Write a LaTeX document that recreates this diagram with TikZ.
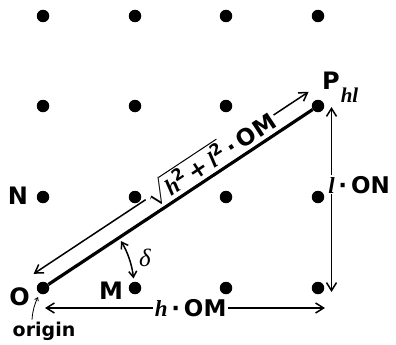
\documentclass[tikz,border=0pt]{standalone}
\usepackage{fontspec}
\setmainfont{DejaVu Sans}
\newfontfamily\sbi{Liberation Serif}
\newcommand\vh{{\sbi\bfseries\itshape h}}
\newcommand\vl{{\sbi\bfseries\itshape l}}
\newcommand\cdt{\,·\,}
\usetikzlibrary{arrows.meta,calc}
\begin{document}
\begin{tikzpicture}[x=1pt,y=1pt,
  dot/.style={circle,fill=black,inner sep=0pt,minimum size=12.5pt},
  lab/.style={font=\fontsize{24}{26}\selectfont\bfseries,inner sep=0pt},
  mlab/.style={font=\fontsize{23}{25}\selectfont\bfseries,inner sep=2pt,fill=white},
  arr/.style={line width=1.5pt,{Straight Barb[length=8pt,width=10pt]}-{Straight Barb[length=8pt,width=10pt]}},
  sarr/.style={line width=1.5pt,{Straight Barb[length=6pt,width=8pt]}-{Straight Barb[length=6pt,width=8pt]}},
  ptr/.style={line width=0.8pt,-{Straight Barb[length=3pt,width=4pt]}},
  vec/.style={line width=3.2pt}
]
\useasboundingbox (0,0) rectangle (396,-345);
\foreach \i/\x in {0/43,1/135,2/226,3/318}
  \foreach \j/\y in {0/-288,1/-197,2/-106,3/-16}
    \node[dot] (d\i\j) at (\x,\y) {};
% labels
\node[lab] (lO) at (19.5,-297) {O};
\node[lab] (lM) at (111,-291) {M};
\node[lab] (lN) at (18,-196) {N};
\node[lab,anchor=base west] (lP) at (322,-89) {P\kern1pt\raisebox{-13pt}{\fontsize{21}{23}\selectfont\vh\vl}};
\node[font=\fontsize{19}{21}\selectfont\bfseries,inner sep=0pt] (origin) at (44,-331) {origin};
% vector O -> P
\draw[vec] (d00) -- (d32);
% parallel length arrow
\coordinate (s1) at ($(d00)!17pt!90:(d32)$);
\coordinate (s2) at ($(d32)!17pt!-90:(d00)$);
\draw[arr] (s1) -- node[mlab,sloped,pos=0.64] {$\sqrt{\hbox{\vh\textsuperscript{2}\,+\,\vl\textsuperscript{2}}}$\cdt OM} (s2);
% horizontal arrow
\coordinate (h1) at ($(d00)+(2,-20)$);
\coordinate (h2) at ($(d30)+(7,-20)$);
\draw[arr] (h1) -- node[mlab,pos=0.52] {\vh\cdt OM} (h2);
% vertical arrow
\coordinate (v1) at ($(d32)+(13.5,-1)$);
\coordinate (v2) at ($(d30)+(13.5,-4)$);
\draw[arr] (v2) -- node[mlab,pos=0.58,anchor=west,xshift=-5pt,inner sep=1pt] {\vl\cdt ON} (v1);
% delta arc
\coordinate (a1) at ($(d00)+(31:91)$);
\draw[sarr] (a1) arc[start angle=31,end angle=6,radius=91];
\node[font=\fontsize{25}{27}\selectfont\sbi\itshape,inner sep=0pt] (delta) at (145,-258) {δ};
% origin pointer
\coordinate (o1) at ($(origin.north)+(-12,2)$);
\coordinate (o2) at ($(d00)+(-5,-9)$);
\draw[ptr] (o1) to[bend left=10] (o2);
\end{tikzpicture}
\end{document}
